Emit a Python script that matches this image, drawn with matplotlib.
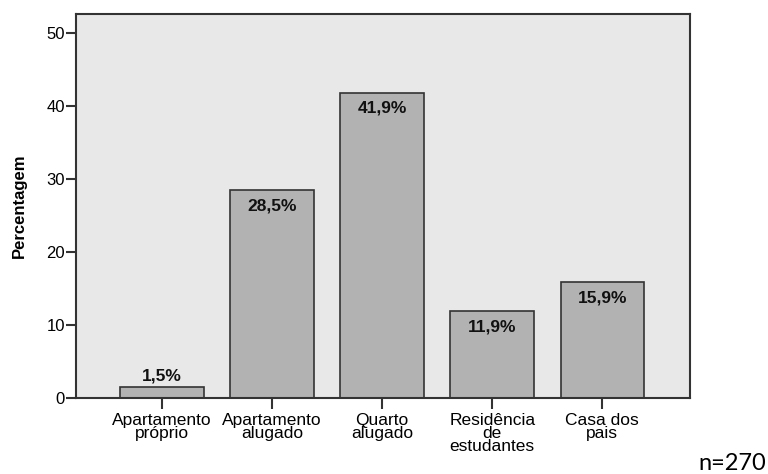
import matplotlib
matplotlib.use('Agg')
import matplotlib.pyplot as plt
import numpy as np

plt.rcParams['font.family'] = ['Liberation Sans', 'DejaVu Sans']

categories = ['Apartamento\npróprio', 'Apartamento\nalugado', 'Quarto\nalugado',
              'Residência\nde\nestudantes', 'Casa dos\npais']
values = [1.5, 28.5, 41.9, 11.9, 15.9]
labels = ['1,5%', '28,5%', '41,9%', '11,9%', '15,9%']
yticks = [0, 10, 20, 30, 40, 50]
n_text = 'n=270'

fig = plt.figure(figsize=(7.68, 4.74), dpi=100)
ax = fig.add_axes([0.099, 0.160, 0.800, 0.811])
ax.set_facecolor('#e8e8e8')

x = np.arange(len(values))
ax.bar(x, values, width=0.76, color='#b2b2b2', edgecolor='#333333', linewidth=1.2)

for xi, v, lab in zip(x, values, labels):
    if v < 5:
        ax.annotate(lab, (xi, v), xytext=(0, 3), textcoords='offset points',
                    ha='center', va='bottom', fontsize=12.5, fontweight='bold',
                    color='#111111')
    else:
        ax.annotate(lab, (xi, v), xytext=(0, -6), textcoords='offset points',
                    ha='center', va='top', fontsize=12.5, fontweight='bold',
                    color='#111111')

ax.set_xlim(-0.78, 4.8)
ax.set_ylim(0, 52.7)
ax.set_yticks(yticks)
ax.set_xticks(x)
ax.set_xticklabels(categories, fontsize=12.5, linespacing=0.82)
ax.tick_params(axis='y', labelsize=12, length=7, width=1.5, pad=1, color='#333333')
ax.tick_params(axis='x', length=8, width=1.5, pad=3, color='#333333')
ax.set_ylabel('Percentagem', fontsize=12, fontweight='bold', labelpad=14)

for s in ax.spines.values():
    s.set_color('#333333')
    s.set_linewidth(1.5)

fig.text(0.997, 0.023, n_text, ha='right', va='center', fontsize=17,
         family=['Lato', 'DejaVu Sans'])

fig.savefig('out.png', dpi=100)
